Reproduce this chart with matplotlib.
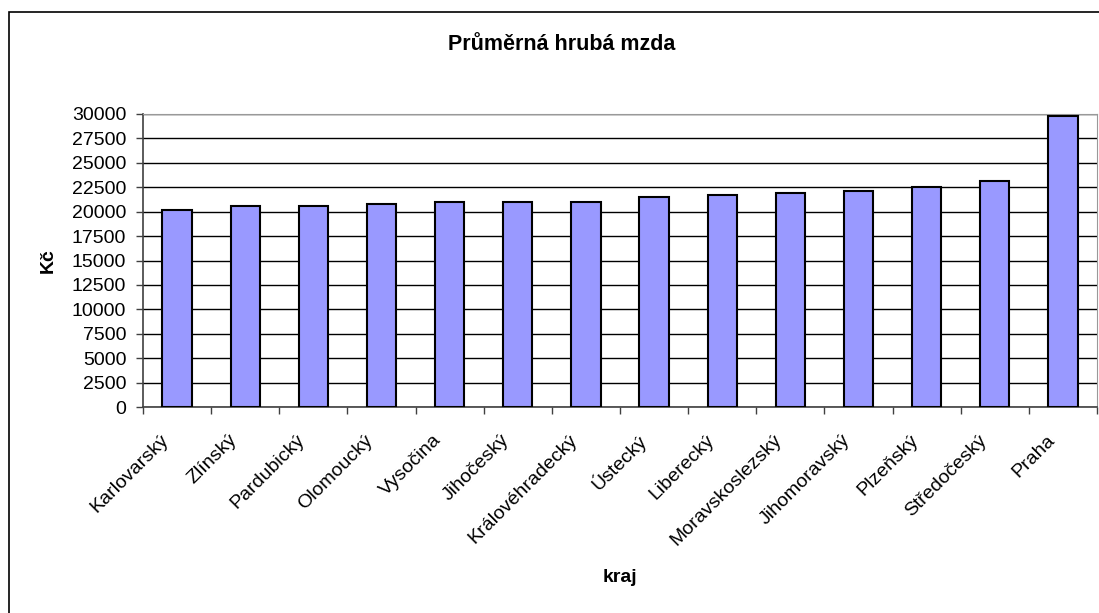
import numpy as np
import matplotlib
matplotlib.use("Agg")
import matplotlib.pyplot as plt
from matplotlib.patches import Rectangle
from matplotlib.transforms import ScaledTranslation

# prumerna hruba mzda podle kraju (Kc)
kraje = ["Karlovarský", "Zlínský", "Pardubický", "Olomoucký", "Vysočina",
         "Jihočeský", "Královéhradecký", "Ústecký", "Liberecký",
         "Moravskoslezský", "Jihomoravský", "Plzeňský", "Středočeský", "Praha"]
mzdy = [20200, 20550, 20550, 20760, 20970, 20970, 20970,
        21550, 21720, 21930, 22140, 22530, 23120, 29790]
yticks = np.arange(0, 30001, 2500)

plt.rcParams['font.family'] = ['Liberation Sans', 'DejaVu Sans']

W, H = 1099, 613
fig = plt.figure(figsize=(W / 100, H / 100), dpi=100)
ax = fig.add_axes([143 / W, 1 - 407 / H, (1097 - 143) / W, (407 - 114) / H])

x = np.arange(len(kraje))
ax.bar(x, mzdy, width=0.43, color='#9999ff', edgecolor='black', linewidth=1.5, zorder=3)

ax.set_xlim(-0.5, len(kraje) - 0.5)
ax.set_ylim(0, 30000)
ax.set_yticks(yticks)
ax.set_yticklabels([str(v) for v in yticks])
ax.grid(axis='y', color='black', lw=1, zorder=0)

# ticks on category boundaries, labels at the centres
ax.set_xticks(np.arange(-0.5, len(kraje), 1))
ax.set_xticklabels([])
ax.set_xticks(x, minor=True)
ax.set_xticklabels(kraje, minor=True, rotation=45, ha='right', va='center',
                   rotation_mode='anchor', fontsize=14)
ax.tick_params(axis='x', which='minor', length=0, pad=22)
ax.tick_params(axis='x', which='major', length=5, width=1, color='#404040')
ax.tick_params(axis='y', length=5, width=1, color='#404040', labelsize=14, pad=7)
shift = ScaledTranslation(-11 / 100, 0, fig.dpi_scale_trans)
for lab in ax.get_xticklabels(minor=True):
    lab.set_transform(lab.get_transform() + shift)

for s in ['top', 'right']:
    ax.spines[s].set_color('#999999')
for s in ['left', 'bottom']:
    ax.spines[s].set_color('#404040')
    ax.spines[s].set_linewidth(1.2)

ax.set_ylabel("Kč", fontsize=14, fontweight='bold', labelpad=11)
ax.set_xlabel("kraj", fontsize=14, fontweight='bold', labelpad=14)
fig.text(562 / W, 1 - 44 / H, "Průměrná hrubá mzda", ha='center', va='center',
         fontsize=15.5, fontweight='bold')

# chart area frame (Excel), cropped at right and bottom
fig.add_artist(Rectangle((9 / W, -0.5), 2, 1.5 - 12 / H, transform=fig.transFigure,
                         fill=False, ec='black', lw=1.2))

fig.savefig("out.png", dpi=100)
